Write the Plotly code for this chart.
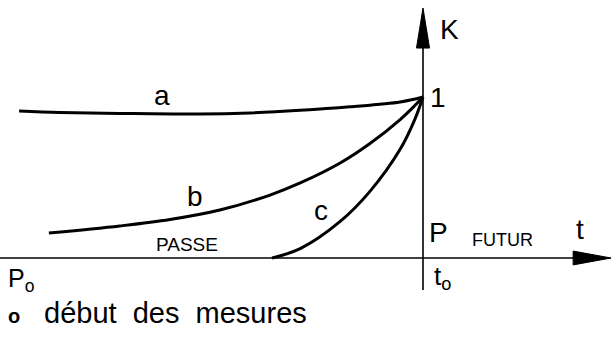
import plotly.graph_objects as go

# ---- data (t: time, t0 = 0 ; K: coefficient, K(t0) = 1) ----
a_t = [-0.990, -0.890, -0.743, -0.547, -0.424, -0.301, -0.179, -0.056, 0.0]
a_k = [0.913, 0.904, 0.898, 0.894, 0.901, 0.917, 0.939, 0.969, 1.0]

b_t = [-0.917, -0.743, -0.620, -0.498, -0.375, -0.301, -0.203, -0.130, -0.056, -0.020, 0.0]
b_k = [0.155, 0.199, 0.239, 0.298, 0.391, 0.466, 0.590, 0.711, 0.860, 0.947, 1.0]

c_t = [-0.370, -0.301, -0.203, -0.130, -0.056, -0.020, 0.0]
c_k = [0.0, 0.058, 0.227, 0.414, 0.675, 0.861, 1.0]

curve_names = ["a", "b", "c"]

# ---- axis extents (data units) ----
T_MIN, T_MAX = -1.0368, 0.4657
K_MIN, K_MAX = -0.5155, 1.6025

FONT = "Liberation Sans"
fig = go.Figure()
for name, tt, kk in zip(curve_names, [a_t, b_t, c_t], [a_k, b_k, c_k]):
    fig.add_trace(go.Scatter(x=tt, y=kk, mode="lines", name=name,
                             line=dict(color="black", width=3, shape="spline", smoothing=1.0),
                             hoverinfo="skip"))

# axes lines
shapes = [
    dict(type="line", x0=T_MIN, x1=0.40, y0=0, y1=0, line=dict(color="black", width=1.6)),
    dict(type="line", x0=0, x1=0, y0=-0.199, y1=1.40, line=dict(color="black", width=1.6)),
    # arrowheads
    dict(type="path", path="M 0.461 0 L 0.368 0.043 L 0.368 -0.043 Z",
         fillcolor="black", line=dict(color="black", width=1)),
    dict(type="path", path="M 0 1.553 L -0.016 1.304 L 0.016 1.304 Z",
         fillcolor="black", line=dict(color="black", width=1)),
]

def ann(text, x, y, size, xanchor="center"):
    return dict(text=text, x=x, y=y, xref="x", yref="y", showarrow=False,
                xanchor=xanchor, yanchor="middle",
                font=dict(family=FONT, size=size, color="black"))

annotations = [
    ann("K", 0.066, 1.422, 28),
    ann("1", 0.036, 1.0, 28),
    ann("a", -0.640, 1.012, 28),
    ann("b", -0.559, 0.379, 28),
    ann("c", -0.250, 0.298, 28),
    ann("PASSE", -0.578, 0.081, 19),
    ann("P", 0.037, 0.161, 28),
    ann("FUTUR", 0.194, 0.112, 18),
    ann("t", 0.385, 0.174, 28),
    ann("t<sub>o</sub>", 0.022, -0.124, 26, "left"),
    ann("P<sub>o</sub>", -1.022, -0.135, 25, "left"),
    ann("<b>o</b>", -1.022, -0.358, 20, "left"),
    ann("début  des  mesures", -0.934, -0.343, 29, "left"),
]

fig.update_layout(
    width=613, height=341,
    margin=dict(l=0, r=0, t=0, b=0),
    paper_bgcolor="white", plot_bgcolor="white",
    showlegend=False,
    xaxis=dict(range=[T_MIN, T_MAX], visible=False, fixedrange=True),
    yaxis=dict(range=[K_MIN, K_MAX], visible=False, fixedrange=True),
    shapes=shapes,
    annotations=annotations,
)
fig.write_html("out.html", config={"displayModeBar": False},
               post_script="document.body.style.margin='0';document.body.style.overflow='hidden';")
